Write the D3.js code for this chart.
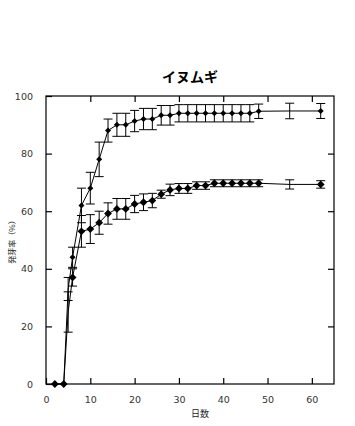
<!DOCTYPE html>
<html>
<head>
<meta charset="utf-8">
<script src="https://cdn.jsdelivr.net/npm/d3@7"></script>
<style>
  html, body { margin: 0; padding: 0; background: #fff; }
  svg { display: block; }
</style>
</head>
<body>
<div id="chart"></div>
<script>
// ---- Data ----
const titleText = "イヌムギ";
const xLabel = "日数";
const yLabel = "発芽率（%）";

const days = [2, 4, 5, 6, 8, 10, 12, 14, 16, 18, 20, 22, 24, 26, 28, 30, 32, 34, 36, 38, 40, 42, 44, 46, 48, 55, 62];

const upperValues = [0, 0, 33, 44, 62, 68, 78, 88, 90, 90, 91.3, 92, 92, 93.3, 93.3, 94, 94, 94, 94, 94, 94, 94, 94, 94, 94.7, 94.8, 94.8];
const upperErrors = [0, 0, 4, 3.5, 6, 5.5, 6, 4, 4, 4, 3.7, 3.7, 3.7, 3.4, 3.4, 3, 3, 3, 3, 3, 3, 3, 3, 3, 2.5, 2.7, 2.6];

const lowerValues = [0, 0, 25, 37, 53, 53.8, 56, 59.2, 60.8, 60.8, 62.5, 63.1, 63.7, 65.9, 67.4, 67.9, 67.9, 68.9, 68.9, 69.7, 69.7, 69.7, 69.7, 69.7, 69.7, 69.3, 69.3];
const lowerErrors = [0, 0, 7, 3, 5.5, 5, 4, 3.7, 3.6, 3.6, 3, 2.9, 2.5, 1.4, 2, 1.7, 1.7, 1.3, 1.3, 1.2, 1.2, 1.2, 1.2, 1.2, 1.2, 1.6, 1.3];

const unmarkedDays = [5, 55];

const xTicks = [0, 10, 20, 30, 40, 50, 60];
const yTicks = [0, 20, 40, 60, 80, 100];

// ---- Layout ----
const W = 355, H = 426;
const margin = { left: 46, top: 96, right: 21, bottom: 42 };
const iw = W - margin.left - margin.right;   // 288
const ih = H - margin.top - margin.bottom;   // 288

const svg = d3.select("#chart").append("svg")
  .attr("width", W).attr("height", H)
  .style("font-family", "'DejaVu Sans', sans-serif");

const g = svg.append("g").attr("transform", `translate(${margin.left},${margin.top})`);

const x = d3.scaleLinear().domain([0, 65]).range([0, iw]);
const y = d3.scaleLinear().domain([0, 100]).range([ih, 0]);

// frame
g.append("rect").attr("x", 0).attr("y", 0).attr("width", iw).attr("height", ih)
  .attr("fill", "none").attr("stroke", "#000").attr("stroke-width", 1.2);

const tickLen = 6;
// bottom axis (inward ticks)
g.append("g").attr("transform", `translate(0,${ih})`)
  .call(d3.axisBottom(x).tickValues(xTicks).tickSizeInner(-tickLen).tickSizeOuter(0).tickPadding(12));
// left axis (inward ticks)
g.append("g")
  .call(d3.axisLeft(y).tickValues(yTicks).tickSizeInner(-tickLen).tickSizeOuter(0).tickPadding(13));
// top and right ticks
g.append("g").call(d3.axisTop(x).tickValues(xTicks.filter(v => v > 0)).tickSizeInner(-tickLen).tickSizeOuter(0).tickFormat(""));
g.append("g").attr("transform", `translate(${iw},0)`)
  .call(d3.axisRight(y).tickValues(yTicks.filter(v => v > 0 && v < 100)).tickSizeInner(-tickLen).tickSizeOuter(0).tickFormat(""));

g.selectAll(".domain").remove();
g.selectAll(".tick line").attr("stroke", "#000").attr("stroke-width", 1.2);
g.selectAll(".tick text").attr("fill", "#333").style("font-size", "9.5px").style("font-family", "'DejaVu Sans', sans-serif");

// ---- Series ----
function buildSeries(vals, errs) {
  return days.map((d, i) => ({ day: d, v: vals[i], e: errs[i] }));
}
const series = [
  { data: buildSeries(lowerValues, lowerErrors), r: 3.9 },
  { data: buildSeries(upperValues, upperErrors), r: 3.0 }
];

const diamond = {
  draw(ctx, size) {
    const r = Math.sqrt(size);
    ctx.moveTo(0, -r); ctx.lineTo(r, 0); ctx.lineTo(0, r); ctx.lineTo(-r, 0); ctx.closePath();
  }
};

const line = d3.line().x(d => x(d.day)).y(d => y(d.v));
const cap = 4.5;

series.forEach(s => {
  // line
  g.append("path").datum(s.data).attr("d", line)
    .attr("fill", "none").attr("stroke", "#000").attr("stroke-width", 1);

  // error bars
  const eb = g.append("g").selectAll("g").data(s.data.filter(d => d.e > 0)).join("g");
  eb.append("line").attr("x1", d => x(d.day)).attr("x2", d => x(d.day))
    .attr("y1", d => y(d.v + d.e)).attr("y2", d => y(d.v - d.e))
    .attr("stroke", "#000").attr("stroke-width", 1);
  eb.append("line").attr("x1", d => x(d.day) - cap).attr("x2", d => x(d.day) + cap)
    .attr("y1", d => y(d.v + d.e)).attr("y2", d => y(d.v + d.e))
    .attr("stroke", "#000").attr("stroke-width", 1);
  eb.append("line").attr("x1", d => x(d.day) - cap).attr("x2", d => x(d.day) + cap)
    .attr("y1", d => y(d.v - d.e)).attr("y2", d => y(d.v - d.e))
    .attr("stroke", "#000").attr("stroke-width", 1);

  // markers
  g.append("g").selectAll("path")
    .data(s.data.filter(d => !unmarkedDays.includes(d.day)))
    .join("path")
    .attr("transform", d => `translate(${x(d.day)},${y(d.v)})`)
    .attr("d", d3.symbol().type(diamond).size(s.r * s.r))
    .attr("fill", "#000");
});

// ---- Titles ----
svg.append("text")
  .attr("x", margin.left + iw / 2).attr("y", 82)
  .attr("text-anchor", "middle")
  .style("font-size", "14px").style("font-weight", "bold")
  .style("font-family", "'Noto Sans CJK JP', sans-serif")
  .text(titleText);

svg.append("text")
  .attr("x", margin.left + iw / 2 + 10).attr("y", 417)
  .attr("text-anchor", "middle")
  .style("font-size", "9px")
  .style("font-family", "'Noto Sans CJK JP', sans-serif")
  .attr("fill", "#222")
  .text(xLabel);

svg.append("text")
  .attr("transform", `translate(15,240) rotate(-90)`)
  .attr("text-anchor", "middle")
  .style("font-size", "8px")
  .style("font-family", "'Noto Sans CJK JP', sans-serif")
  .attr("fill", "#222")
  .text(yLabel);
</script>
</body>
</html>
